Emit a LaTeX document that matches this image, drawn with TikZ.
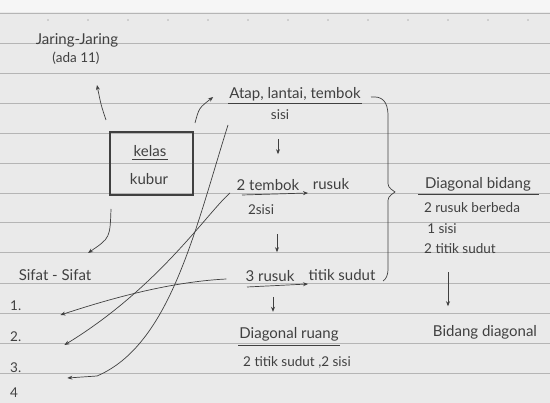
\documentclass[tikz,border=0pt]{standalone}
\usepackage{fontspec}
\setmainfont{Lato}
\usetikzlibrary{arrows.meta,calc}
\definecolor{paper}{HTML}{EAEAEA}
\definecolor{paperTop}{HTML}{F6F6F6}
\definecolor{rule}{HTML}{B5B5B5}
\definecolor{ink}{HTML}{404040}
\tikzset{
  hw/.style={font=\fontsize{15}{17}\selectfont, text=ink, inner sep=1pt},
  hws/.style={font=\fontsize{13.5}{15}\selectfont, text=ink, inner sep=1pt},
  pen/.style={draw=ink, line width=0.7pt, -{Stealth[length=5pt,width=4pt]}},
  uline/.style={draw=ink, line width=0.8pt},
}
\begin{document}
\begin{tikzpicture}[x=1pt,y=-1pt]
\useasboundingbox (0,0) rectangle (550,403);
\fill[paper] (0,0) rectangle (550,403);
\fill[paperTop] (0,0) rectangle (550,12);
\foreach \y in {13,43,73,103,133,163,193,222,252,283,313,343,373} {
  \draw[rule, line width=0.6pt] (0,\y) -- (550,\y);
}
\foreach \x in {48,88,128,168,208,248,288,328,368,408,448,488,528} {
  \fill[rule] (\x,20) circle (0.8);
}
% top-left
\node[hw] (jar) at (77,40) {Jaring-Jaring};
\node[hws] (ada) at (76,58) {(ada 11)};
% box
\node[draw=ink, line width=2pt, minimum width=83pt, minimum height=63pt] (box) at (151.5,163.5) {};
\node[hw] (kelas) at (150,151) {kelas};
\draw[uline] ($(kelas.south west)+(0,2)$) -- ($(kelas.south east)+(0,2)$);
\node[hw] (kubur) at (149,179) {kubur};
% center column
\node[hw] (atap) at (295,94) {Atap, lantai, tembok};
\draw[uline] (228,103) -- (362,103);
\node[hws] (sisiA) at (280,115) {sisi};
\node[hw] (temb) at (268,185) {2 tembok};
\node[hw] (rusA) at (331,184) {rusuk};
\node[hws] (sisiB) at (261,210) {2sisi};
\node[hw] (rus3) at (270,276) {3 rusuk};
\node[hw] (titik) at (342,275) {titik sudut};
\node[hw] (druang) at (289,334) {Diagonal ruang};
\draw[uline] (238,345) -- (340,345);
\node[hws] (tsA) at (297,362) {2 titik sudut ,2 sisi};
% down arrows in centre
\draw[pen] ($(sisiA.south)+(-2,18)$) -- ++(0,15);
\draw[pen] ($(sisiB.south)+(16,18)$) -- ++(0,18);
\draw[pen] ($(rus3.south)+(3,14)$) -- ++(0,15);
% underline arrows
\draw[pen] (242,195) -- (308,193);
\draw[pen] (247,287) -- (308,284);
% brace
\coordinate (b1) at (371,97);
\coordinate (b2) at (383,281);
\draw[ink, line width=0.7pt] (b1) .. controls (382,96) and (388,101) .. (388,116)
  -- (388,180) .. controls (388,187) .. (395,192) .. controls (388,197) .. (388,204)
  -- (388,268) .. controls (388,276) and (386,279) .. (b2);
% right column
\node[hw] (dbid) at (478,184) {Diagonal bidang};
\draw[uline] (418,194) -- (539,194);
\node[hws] (rb) at (472,208) {2 rusuk berbeda};
\node[hws] (s1) at (442,229) {1 sisi};
\node[hws] (ts2) at (460,249) {2 titik sudut};
\node[hw] (bdiag) at (485,332) {Bidang diagonal};
\draw[pen] ($(ts2.south)+(-12,17)$) -- ++(0,34);
% left list
\node[hw] (sifat) at (55,275) {Sifat - Sifat};
\node[hws, anchor=west] (n1) at (9,306) {1.};
\node[hws, anchor=west] (n2) at (9,337) {2.};
\node[hws, anchor=west] (n3) at (9,368) {3.};
\node[hws, anchor=west] (n4) at (9,393) {4};
% box arrows
\draw[pen] ($(box.north west)+(-3,-11)$) .. controls (101,105) .. (97,85);
\draw[pen] ($(box.north east)+(1,-8)$) .. controls (199,108) .. ($(atap.west)+(-15,3)$);
\draw[pen] ($(box.south west)+(2,13)$) .. controls (110,238) .. (88,253);
% long arrows to list
\coordinate (sA) at (228,125);
\coordinate (sB) at (230,193);
\draw[pen] ($(rus3.west)+(-18,3)$) .. controls (165,282) and (100,302) .. ($(n1.east)+(38,9)$);
\draw[pen] (sB) .. controls (208,212) and (158,288) .. ($(n2.east)+(42,8)$);
\draw[pen] (sA) .. controls (195,230) and (170,345) .. (97,376) -- ($(n3.east)+(45,10)$);
\end{tikzpicture}
\end{document}
